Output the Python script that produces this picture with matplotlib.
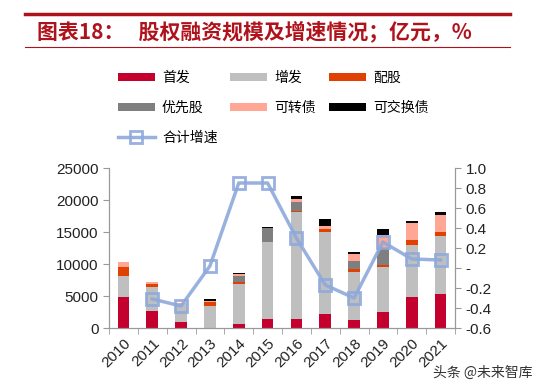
import matplotlib.pyplot as plt
import numpy as np
from matplotlib.ticker import FuncFormatter

plt.rcParams['font.family'] = ['Liberation Sans', 'Noto Sans CJK SC', 'DejaVu Sans']

years = ['2010', '2011', '2012', '2013', '2014', '2015',
         '2016', '2017', '2018', '2019', '2020', '2021']
# 亿元
ipo = [4800, 2700, 1000, 0, 600, 1450, 1400, 2200, 1250, 2500, 4800, 5300]
seo = [3400, 3750, 2800, 3500, 6300, 12050, 16700, 12850, 7550, 7100, 8200, 9100]
rights = [1400, 350, 0, 500, 300, 0, 200, 350, 350, 200, 700, 600]
pref = [0, 0, 0, 0, 1000, 2100, 1400, 0, 1350, 2700, 0, 0]
conv = [700, 400, 150, 250, 200, 0, 400, 500, 1000, 2100, 2650, 2650]
exch = [0, 0, 0, 250, 150, 150, 600, 1100, 400, 800, 350, 450]
growth = [np.nan, -0.31, -0.38, 0.02, 0.85, 0.85, 0.30, -0.17, -0.30, 0.26, 0.09, 0.08]

series = [('首发', ipo, '#C4002F'), ('增发', seo, '#BFBFBF'),
          ('配股', rights, '#E04000'), ('优先股', pref, '#7F7F7F'),
          ('可转债', conv, '#FFA694'), ('可交换债', exch, '#000000')]

fig = plt.figure(figsize=(5.43, 3.91), dpi=100)
ax = fig.add_axes([109 / 543, 63 / 391, 346 / 543, 160 / 391])
ax2 = ax.twinx()

x = np.arange(len(years))
bottom = np.zeros(len(years))
handles = []
for name, vals, col in series:
    b = ax.bar(x, vals, 0.4, bottom=bottom, color=col, label=name)
    bottom += np.array(vals)
    handles.append(b)

line, = ax2.plot(x, growth, color='#8EA9DB', lw=2.5, marker='s', ms=8,
                 mfc='none', mec='#8EA9DB', mew=2, label='合计增速', alpha=0.9)

ax.set_xlim(-0.5, len(years) - 0.5)
ax.set_ylim(0, 25000)
ax.set_yticks(range(0, 25001, 5000))
ax2.set_ylim(-0.6, 1.0)
ax2.set_yticks(np.arange(-0.6, 1.01, 0.2))
ax2.yaxis.set_major_formatter(FuncFormatter(lambda v, p: '-' if abs(v) < 1e-9 else '%.1f' % v))

ax.set_xticks(x)
ax.set_xticklabels(years, rotation=45, ha='right', rotation_mode='anchor')
ax.set_xticks(np.arange(-0.5, len(years), 1), minor=True)
ax.tick_params(axis='x', which='major', length=0, pad=6)
ax.tick_params(axis='x', which='minor', length=4, color='#999999')

for a in (ax, ax2):
    a.spines['top'].set_visible(False)
    for s in ('left', 'right', 'bottom'):
        a.spines[s].set_color('#999999')
    a.tick_params(axis='y', colors='#999999', labelcolor='#222222', labelsize=11, length=4)
ax.tick_params(axis='x', labelsize=11, labelcolor='#222222')

# legend is filled column by column: reorder so it reads row by row
h = handles + [line]
order = [0, 3, 6, 1, 4, 2, 5]
leg = fig.legend([h[i] for i in order], [h[i].get_label() for i in order],
                 loc='upper left', bbox_to_anchor=(105 / 543, 1 - 58 / 391),
                 ncol=3, frameon=False, handlelength=2.7, handleheight=0.5,
                 handletextpad=0.5, columnspacing=0.9, labelspacing=1.15,
                 prop={'family': ['Noto Sans CJK SC'], 'size': 10})

# title block
title_col = '#B0121B'
fig.add_artist(plt.Line2D([25 / 543, 510 / 543], [1 - 14 / 391] * 2, color=title_col, lw=2.5))
fig.add_artist(plt.Line2D([25 / 543, 510 / 543], [1 - 47 / 391] * 2, color=title_col, lw=0.8))
fig.text(37 / 543, 1 - 31 / 391, '图表18：   股权融资规模及增速情况；亿元，%',
         color=title_col, fontsize=15, fontweight='bold', style='italic',
         va='center', ha='left', family=['Noto Sans CJK SC'])

fig.text(433 / 543, 1 - 373 / 391, '头条 @未来智库', color='#333333', fontsize=10,
         va='center', ha='left', family=['Noto Sans CJK SC'])

fig.savefig('out.png', dpi=100)
